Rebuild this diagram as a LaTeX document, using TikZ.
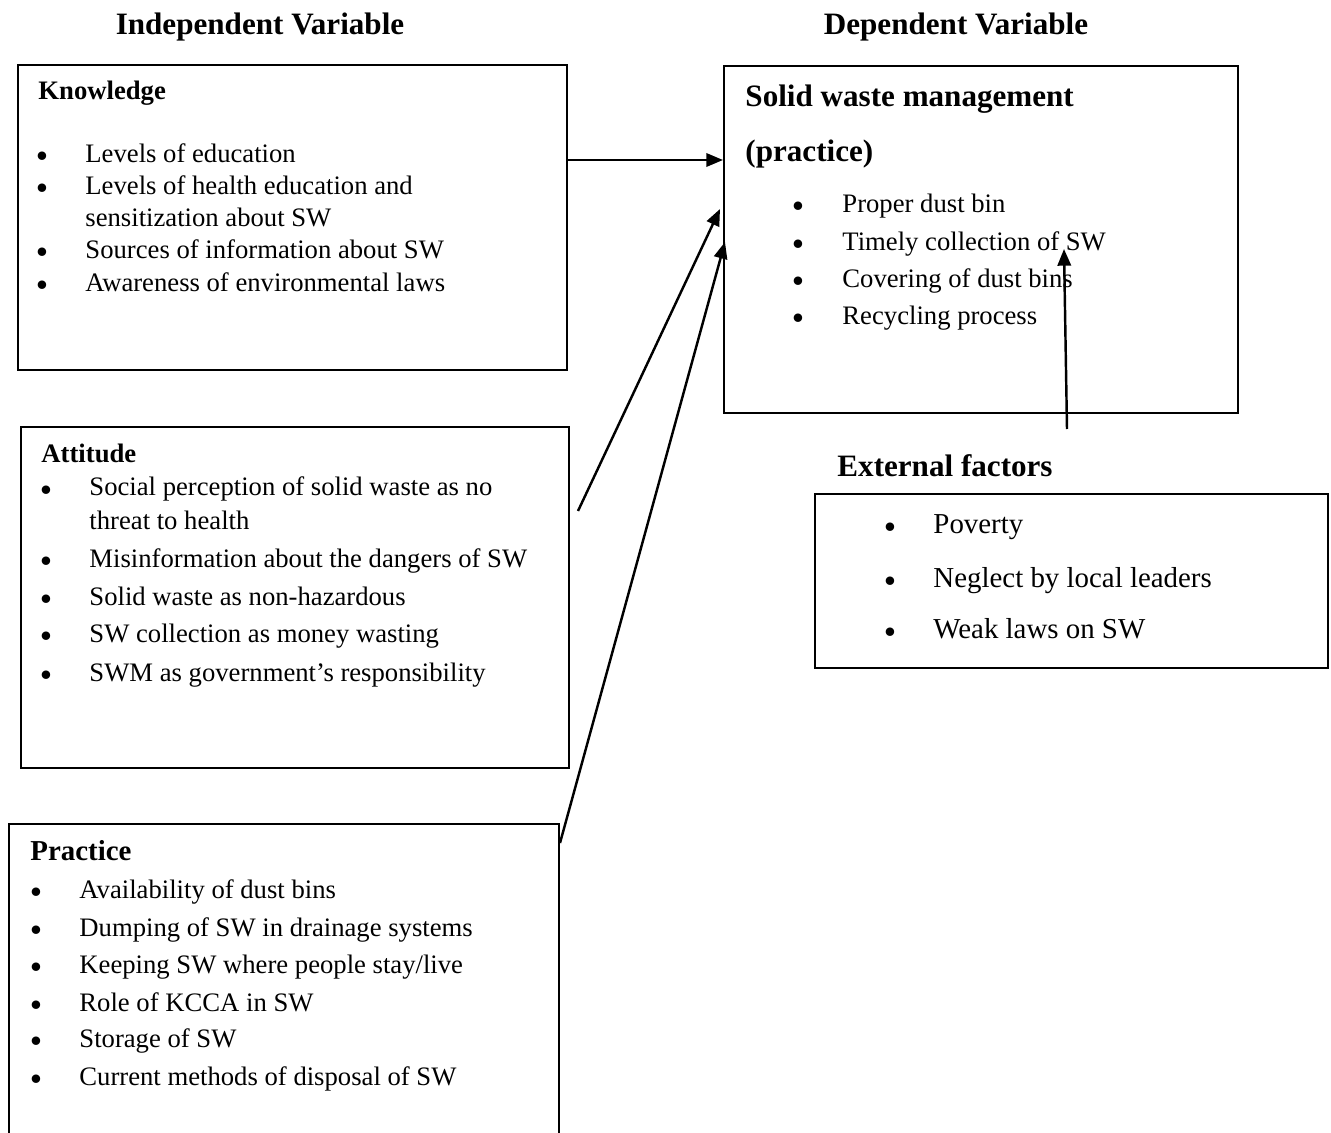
\documentclass[tikz,border=0pt]{standalone}
\usepackage{fontspec}
\setmainfont{Liberation Serif}
\usetikzlibrary{arrows.meta,fit}

\tikzset{
  box/.style={draw, line width=0.9pt, inner sep=0pt},
  txt/.style={anchor=base west, inner sep=0pt, font=\fontsize{12}{14}\selectfont},
  bigtxt/.style={anchor=base west, inner sep=0pt, font=\fontsize{13}{15}\selectfont},
  hd/.style={anchor=base west, inner sep=0pt, font=\fontsize{14}{16}\selectfont\bfseries},
  smallhd/.style={anchor=base west, inner sep=0pt, font=\fontsize{12}{14}\selectfont\bfseries},
  bul/.style={anchor=base, inner sep=0pt, yshift=-1.8pt, font=\fontsize{14}{14}\selectfont\bfseries},
  arr/.style={-{Triangle[length=7.5pt,width=6pt]}, line width=1.1pt},
}

\begin{document}
\begin{tikzpicture}[x=0.45pt, y=-0.45pt]
    \path[use as bounding box] (0,0) rectangle (1331,1133);
    \clip (0,0) rectangle (1331,1133);

    % titles
    \node[hd, anchor=base] (ivtitle) at (260,35) {Independent Variable};
    \node[hd, anchor=base] (dvtitle) at (956,35) {Dependent Variable};

    % boxes
    \node[box, fit={(18,65) (567,370)}] (know) {};
    \node[box, fit={(724,66) (1238,413)}] (dv) {};
    \node[box, fit={(21,427) (569,768)}] (att) {};
    \node[box, fit={(815,494) (1328,668)}] (ext) {};
    \node[box, fit={(9,824) (559,1170)}] (prac) {};

    % knowledge
    \node[smallhd] (khd) at (38,100) {Knowledge};
    \node[bul] (kb1) at (42,163) {\textbullet};
    \node[txt] (k1) at (85,163) {Levels of education};
    \node[bul] (kb2) at (42,195) {\textbullet};
    \node[txt] (k2) at (85,195) {Levels of health education and};
    \node[txt] (k2b) at (85,227) {sensitization about SW};
    \node[bul] (kb3) at (42,259) {\textbullet};
    \node[txt] (k3) at (85,259) {Sources of information about SW};
    \node[bul] (kb4) at (42,292) {\textbullet};
    \node[txt] (k4) at (85,292) {Awareness of environmental laws};

    % attitude
    \node[smallhd] (ahd) at (41,462) {Attitude};
    \node[bul] (ab1) at (46,496) {\textbullet};
    \node[txt] (a1) at (89,496) {Social perception of solid waste as no};
    \node[txt] (a1b) at (89,530) {threat to health};
    \node[bul] (ab2) at (46,567) {\textbullet};
    \node[txt] (a2) at (89,567) {Misinformation about the dangers of SW};
    \node[bul] (ab3) at (46,605) {\textbullet};
    \node[txt] (a3) at (89,605) {Solid waste as non-hazardous};
    \node[bul] (ab4) at (46,642) {\textbullet};
    \node[txt] (a4) at (89,642) {SW collection as money wasting};
    \node[bul] (ab5) at (46,681) {\textbullet};
    \node[txt] (a5) at (89,681) {SWM as government’s responsibility};

    % practice
    \node[hd, font=\fontsize{13}{15}\selectfont\bfseries] (phd) at (30,860) {Practice};
    \node[bul] (pb1) at (36,898) {\textbullet};
    \node[txt] (p1) at (79,898) {Availability of dust bins};
    \node[bul] (pb2) at (36,936) {\textbullet};
    \node[txt] (p2) at (79,936) {Dumping of SW in drainage systems};
    \node[bul] (pb3) at (36,973) {\textbullet};
    \node[txt] (p3) at (79,973) {Keeping SW where people stay/live};
    \node[bul] (pb4) at (36,1011) {\textbullet};
    \node[txt] (p4) at (79,1011) {Role of KCCA in SW};
    \node[bul] (pb5) at (36,1047) {\textbullet};
    \node[txt] (p5) at (79,1047) {Storage of SW};
    \node[bul] (pb6) at (36,1085) {\textbullet};
    \node[txt] (p6) at (79,1085) {Current methods of disposal of SW};

    % dependent variable
    \node[hd] (dhd) at (745,107) {Solid waste management};
    \node[hd] (dhdb) at (745,162) {(practice)};
    \node[bul] (db1) at (798,213) {\textbullet};
    \node[txt] (d1) at (842,213) {Proper dust bin};
    \node[bul] (db2) at (798,251) {\textbullet};
    \node[txt] (d2) at (842,251) {Timely collection of SW};
    \node[bul] (db3) at (798,288) {\textbullet};
    \node[txt] (d3) at (842,288) {Covering of dust bins};
    \node[bul] (db4) at (798,325) {\textbullet};
    \node[txt] (d4) at (842,325) {Recycling process};

    % external factors
    \node[hd] (ehd) at (837,477) {External factors};
    \node[bul] (eb1) at (890,533) {\textbullet};
    \node[bigtxt] (e1) at (933,533) {Poverty};
    \node[bul] (eb2) at (890,587) {\textbullet};
    \node[bigtxt] (e2) at (933,587) {Neglect by local leaders};
    \node[bul] (eb3) at (890,638) {\textbullet};
    \node[bigtxt] (e3) at (933,638) {Weak laws on SW};

    % arrows
    \coordinate (attstart) at (578,511);
    \coordinate (dvin1) at (720,209);
    \coordinate (dvin2) at (725,242);
    \coordinate (extstart) at (1067,429);
    \coordinate (dvin3) at (1064,249);
    \draw[arr] (know.east |- 0,160) -- (dv.west |- 0,160);
    \draw[arr] (attstart) -- (dvin1);
    \draw[arr] (prac.east |- 0,843) -- (dvin2);
    \draw[arr] (extstart) -- (dvin3);
\end{tikzpicture}
\end{document}
